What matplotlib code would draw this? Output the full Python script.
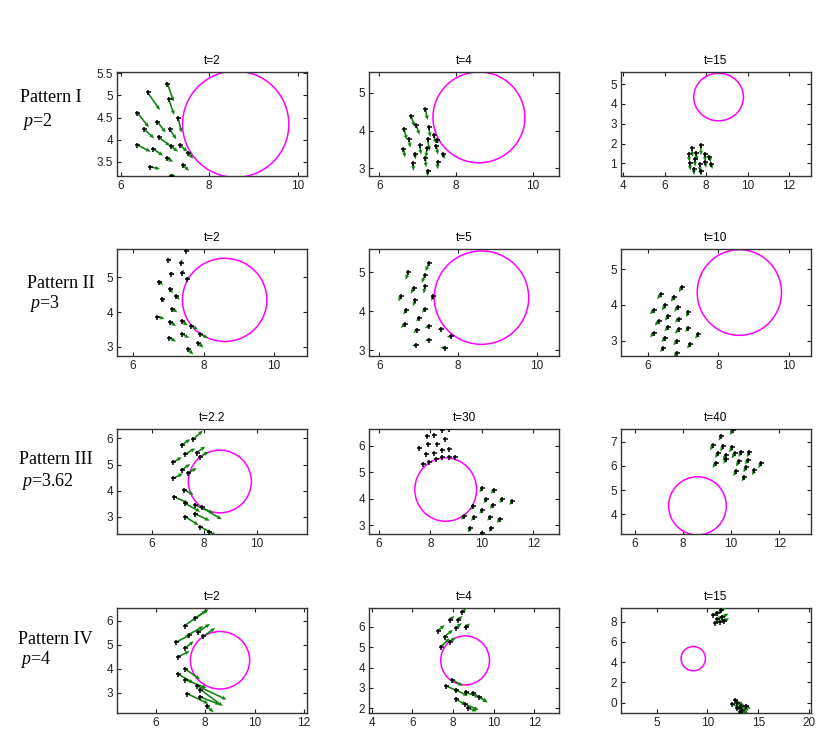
import matplotlib
matplotlib.use("Agg")
import matplotlib.pyplot as plt
from matplotlib.patches import Circle
from matplotlib.ticker import FormatStrFormatter
import numpy as np

plt.rcParams['font.family'] = ['Liberation Sans', 'DejaVu Sans']
plt.rcParams['mathtext.fontset'] = 'custom'
plt.rcParams['mathtext.it'] = 'Liberation Serif:italic'
plt.rcParams['mathtext.rm'] = 'Liberation Serif'

# ---------------- data ----------------
titles = ['t=2', 't=4', 't=15', 't=2', 't=5', 't=10',
          't=2.2', 't=30', 't=40', 't=2', 't=4', 't=15']
pattern_names = ['Pattern I', 'Pattern II', 'Pattern III', 'Pattern IV']
p_values = ['2', '3', '3.62', '4']

circle_center = (8.6, 4.35)
circle_radius = 1.2

# axis limits per panel
xlims = [(5.92, 10.21), (5.73, 10.69), (3.89, 13.06),
         (5.54, 10.94), (5.74, 10.57), (5.23, 10.64),
         (4.68, 11.92), (5.62, 13.0), (5.42, 13.32),
         (4.43, 12.12), (3.87, 13.22), (1.48, 20.2)]
ylims = [(3.18, 5.53), (2.8, 5.55), (0.37, 5.61),
         (2.73, 5.82), (2.85, 5.6), (2.57, 5.57),
         (2.34, 6.36), (2.67, 6.64), (3.19, 7.52),
         (2.15, 6.53), (1.77, 6.92), (-1.02, 9.35)]
xticks = [[6, 8, 10], [6, 8, 10], [4, 6, 8, 10, 12],
          [6, 8, 10], [6, 8, 10], [6, 8, 10],
          [6, 8, 10], [6, 8, 10, 12], [6, 8, 10, 12],
          [6, 8, 10, 12], [4, 6, 8, 10, 12], [5, 10, 15, 20]]
yticks = [[3.5, 4, 4.5, 5, 5.5], [3, 4, 5], [1, 2, 3, 4, 5],
          [3, 4, 5], [3, 4, 5], [3, 4, 5],
          [3, 4, 5, 6], [3, 4, 5, 6], [4, 5, 6, 7],
          [3, 4, 5, 6], [2, 3, 4, 5, 6], [0, 2, 4, 6, 8]]

# agent positions (x, y) and velocities (u, v) per panel
r1c1_x = [7.06, 6.61, 7.09, 7.30, 6.38, 6.83, 6.53, 7.11, 6.87, 6.38, 6.74, 7.13, 7.34, 7.53, 7.04, 6.66, 7.41, 7.15]
r1c1_y = [5.27, 5.07, 4.91, 4.49, 4.61, 4.41, 4.24, 4.24, 4.05, 3.88, 3.79, 3.86, 3.88, 3.70, 3.58, 3.39, 3.42, 3.19]
r1c1_u = [0.14, 0.28, 0.12, 0.08, 0.26, 0.19, 0.23, 0.15, 0.25, 0.30, 0.22, 0.17, 0.17, 0.11, 0.15, 0.23, 0.14, 0.11]
r1c1_v = [-0.41, -0.40, -0.35, -0.33, -0.33, -0.25, -0.21, -0.23, -0.19, -0.15, -0.15, -0.13, -0.15, -0.13, -0.08, -0.05, -0.12, -0.02]

r1c2_x = [7.20, 6.83, 6.96, 6.64, 6.77, 6.63, 7.05, 6.92, 7.29, 7.42, 7.26, 7.50, 7.24, 7.49, 7.67, 6.88, 7.20, 7.52, 7.26]
r1c2_y = [4.58, 4.39, 4.15, 4.04, 3.78, 3.52, 3.61, 3.39, 4.09, 3.89, 3.78, 3.76, 3.55, 3.59, 3.39, 3.14, 3.27, 3.18, 2.94]
r1c2_u = [0.06, 0.09, 0.09, 0.08, 0.04, 0.04, 0.04, 0.03, 0.04, 0.06, 0.05, 0.05, -0.02, 0.04, 0.03, 0.01, 0.02, 0.0, 0.0]
r1c2_v = [-0.30, -0.28, -0.26, -0.28, -0.23, -0.23, -0.24, -0.15, -0.26, -0.23, -0.32, -0.10, -0.26, -0.22, -0.15, -0.20, -0.24, -0.20, -0.15]

r1c3_x = [7.15, 7.31, 7.52, 7.73, 7.92, 8.16, 7.20, 7.44, 7.68, 7.95, 8.24, 7.39, 7.73]
r1c3_y = [1.49, 1.79, 1.54, 1.91, 1.46, 1.35, 1.00, 1.25, 0.97, 1.08, 0.97, 0.72, 0.64]
r1c3_u = [0.05, 0.03, 0.04, 0.03, 0.05, 0.06, 0.04, 0.03, 0.04, 0.05, 0.06, 0.03, 0.02]
r1c3_v = [-0.40, -0.45, -0.40, -0.50, -0.35, -0.30, -0.35, -0.40, -0.40, -0.30, -0.25, -0.30, -0.25]

r2c1_x = [6.99, 7.36, 7.49, 7.08, 7.39, 7.54, 6.73, 7.05, 6.82, 7.22, 7.10, 6.68, 7.05, 7.39, 7.65, 7.39, 7.03, 7.89, 7.84, 7.55]
r2c1_y = [5.49, 5.41, 5.75, 5.11, 5.13, 4.95, 4.88, 4.66, 4.38, 4.47, 4.09, 3.87, 3.70, 3.73, 3.61, 3.37, 3.25, 3.37, 3.11, 2.93]
r2c1_u = [0.10, 0.03, 0.03, 0.05, 0.05, 0.04, 0.12, 0.08, 0.07, 0.10, 0.16, 0.21, 0.17, 0.16, 0.19, 0.20, 0.19, 0.24, 0.16, 0.16]
r2c1_v = [0.05, 0.12, 0.10, 0.05, 0.10, 0.08, -0.10, -0.12, -0.10, -0.12, -0.10, -0.07, -0.10, -0.12, -0.12, -0.12, -0.10, -0.12, -0.14, -0.16]

r2c2_x = [6.74, 7.26, 7.16, 6.88, 7.16, 6.55, 6.92, 7.36, 6.69, 7.16, 7.01, 6.66, 6.97, 7.26, 7.58, 7.83, 7.26, 6.93, 7.66]
r2c2_y = [5.00, 5.24, 4.92, 4.60, 4.64, 4.40, 4.28, 4.39, 4.03, 4.06, 3.83, 3.68, 3.53, 3.61, 3.55, 3.36, 3.27, 3.12, 3.06]
r2c2_u = [-0.07, -0.08, -0.08, -0.08, -0.03, -0.06, -0.07, -0.03, -0.08, -0.07, -0.07, -0.11, -0.10, -0.10, -0.10, -0.11, -0.10, -0.10, -0.11]
r2c2_v = [-0.19, -0.21, -0.19, -0.15, -0.19, -0.15, -0.15, -0.13, -0.11, -0.10, -0.09, -0.11, -0.09, -0.04, -0.02, -0.02, -0.02, 0.0, 0.0]

r2c3_x = [6.36, 6.74, 6.96, 6.16, 6.49, 6.84, 7.15, 6.30, 6.58, 6.87, 6.16, 6.58, 6.87, 7.15, 7.43, 6.49, 6.82, 7.20, 6.44, 6.82]
r2c3_y = [4.30, 4.23, 4.51, 3.86, 3.99, 3.95, 3.79, 3.55, 3.69, 3.62, 3.22, 3.39, 3.32, 3.36, 3.18, 3.08, 2.99, 2.90, 2.80, 2.66]
r2c3_u = [-0.10, -0.09, -0.08, -0.10, -0.10, -0.09, -0.07, -0.11, -0.10, -0.10, -0.10, -0.11, -0.10, -0.09, -0.09, -0.11, -0.10, -0.09, -0.10, -0.09]
r2c3_v = [-0.14, -0.14, -0.15, -0.13, -0.14, -0.14, -0.13, -0.13, -0.13, -0.12, -0.13, -0.13, -0.13, -0.12, -0.12, -0.12, -0.12, -0.12, -0.12, -0.12]

r3c1_x = [7.15, 7.59, 7.28, 7.72, 6.81, 7.15, 7.85, 6.83, 7.40, 7.24, 6.86, 7.28, 7.66, 7.91, 7.28, 7.66, 7.85, 8.17]
r3c1_y = [5.75, 5.97, 5.39, 5.46, 5.09, 4.79, 5.30, 4.47, 4.69, 4.03, 3.77, 3.51, 3.45, 3.36, 3.00, 3.11, 2.62, 2.43]
r3c1_u = [0.32, 0.36, 0.38, 0.32, 0.34, 0.32, 0.32, 0.36, 0.32, 0.36, 0.55, 0.57, 0.70, 0.76, 0.51, 0.55, 0.45, 0.30]
r3c1_v = [0.22, 0.33, 0.23, 0.23, 0.19, 0.23, 0.19, 0.19, 0.17, -0.19, -0.26, -0.32, -0.32, -0.46, -0.32, -0.26, -0.25, -0.15]

r3c2_x = [7.86, 8.15, 8.45, 8.71, 7.58, 7.90, 8.28, 8.58, 7.83, 8.13, 8.45, 8.73, 7.73, 7.96, 8.22, 8.47, 8.73, 8.96,
          10.01, 10.46, 10.18, 10.78, 11.17, 9.67, 10.01, 10.42, 10.33, 10.69, 9.31, 9.69, 9.56, 10.37, 10.01]
r3c2_y = [6.36, 6.42, 6.59, 6.64, 5.94, 6.08, 6.08, 6.26, 5.69, 5.73, 5.83, 5.88, 5.32, 5.41, 5.50, 5.58, 5.58, 5.58,
          4.40, 4.34, 3.99, 3.99, 3.90, 3.74, 3.58, 3.77, 3.33, 3.23, 3.36, 3.31, 2.89, 2.89, 2.70]
r3c2_u = [-0.08, -0.07, -0.08, -0.06, -0.08, -0.07, -0.08, -0.06, -0.08, -0.07, -0.08, -0.06, -0.08, -0.07, -0.08, -0.06, -0.07, -0.06,
          -0.10, -0.10, -0.11, -0.10, -0.09, -0.11, -0.10, -0.10, -0.11, -0.10, -0.11, -0.10, -0.11, -0.10, -0.10]
r3c2_v = [0.02, 0.03, 0.01, 0.02, 0.02, 0.03, 0.01, 0.02, 0.02, 0.03, 0.01, 0.02, 0.02, 0.03, 0.01, 0.02, 0.02, 0.01,
          -0.16, -0.15, -0.16, -0.15, -0.14, -0.16, -0.15, -0.15, -0.16, -0.15, -0.16, -0.15, -0.16, -0.15, -0.15]

r3c3_x = [10.07, 9.59, 9.24, 9.66, 10.04, 9.45, 9.77, 10.14, 10.41, 10.76, 9.35, 9.79, 10.32, 10.69, 11.24, 10.21, 10.62, 10.97, 10.55]
r3c3_y = [7.49, 7.25, 6.84, 6.80, 6.77, 6.52, 6.43, 6.52, 6.56, 6.56, 6.11, 6.29, 6.19, 6.25, 6.11, 5.78, 5.94, 5.81, 5.56]
r3c3_u = [-0.12, -0.11, -0.12, -0.11, -0.12, -0.11, -0.12, -0.11, -0.10, -0.11, -0.12, -0.11, -0.12, -0.10, -0.11, -0.12, -0.11, -0.10, -0.11]
r3c3_v = [-0.22, -0.21, -0.20, -0.21, -0.22, -0.20, -0.21, -0.22, -0.20, -0.21, -0.20, -0.21, -0.22, -0.20, -0.21, -0.20, -0.21, -0.20, -0.21]

r4c1_x = [7.17, 7.60, 7.33, 7.69, 6.82, 7.19, 7.93, 6.89, 7.19, 6.89, 7.19, 7.66, 7.80, 7.26, 7.80, 8.07]
r4c1_y = [5.80, 6.11, 5.42, 5.51, 5.10, 4.86, 5.35, 4.49, 3.99, 3.78, 3.54, 3.29, 3.13, 2.96, 2.82, 2.43]
r4c1_u = [0.97, 0.45, 0.60, 0.50, 0.58, 0.34, 0.47, 0.48, 0.60, 0.64, 0.87, 1.20, 0.91, 0.87, 0.80, 0.27]
r4c1_v = [0.68, 0.32, 0.35, 0.36, 0.32, 0.28, 0.35, 0.24, -0.44, -0.38, -0.35, -0.58, -0.69, -0.42, -0.32, -0.25]

r4c2_x = [7.27, 7.84, 8.24, 8.46, 7.59, 8.13, 8.65, 7.43, 7.84, 7.97, 7.64, 8.13, 8.62, 8.98, 9.30, 8.13, 8.57, 8.73]
r4c2_y = [5.81, 6.33, 6.33, 6.71, 5.52, 5.93, 6.01, 5.03, 5.27, 3.40, 3.10, 2.91, 2.78, 2.74, 2.55, 2.45, 2.22, 2.01]
r4c2_u = [0.32, 0.24, 0.24, 0.20, 0.41, 0.30, 0.20, 0.41, 0.30, 0.52, 0.68, 0.60, 0.68, 0.73, 0.40, 0.52, 0.70, 0.45]
r4c2_v = [0.28, 0.20, 0.20, 0.20, 0.33, 0.25, 0.15, 0.41, 0.20, -0.30, -0.28, -0.30, -0.23, -0.45, -0.25, -0.28, -0.30, -0.15]

r4c3_x = [10.59, 10.98, 11.31, 10.92, 11.48, 10.72, 11.25, 11.64, 12.69, 12.46, 12.89, 13.28, 12.95, 13.44, 13.77, 13.21]
r4c3_y = [8.65, 8.82, 9.14, 8.22, 8.49, 7.83, 7.99, 8.09, 0.26, -0.13, -0.07, -0.33, -0.56, -0.72, -0.33, -0.89]
r4c3_u = [0.6, 0.6, 0.5, 0.6, 0.6, 0.5, 0.6, 0.5, 0.9, 0.9, 0.9, 0.8, 0.8, 0.6, 0.5, 0.6]
r4c3_v = [0.35, 0.35, 0.3, 0.35, 0.3, 0.3, 0.3, 0.25, -0.5, -0.5, -0.5, -0.45, -0.45, -0.35, -0.3, -0.3]

panels = [
    (r1c1_x, r1c1_y, r1c1_u, r1c1_v), (r1c2_x, r1c2_y, r1c2_u, r1c2_v), (r1c3_x, r1c3_y, r1c3_u, r1c3_v),
    (r2c1_x, r2c1_y, r2c1_u, r2c1_v), (r2c2_x, r2c2_y, r2c2_u, r2c2_v), (r2c3_x, r2c3_y, r2c3_u, r2c3_v),
    (r3c1_x, r3c1_y, r3c1_u, r3c1_v), (r3c2_x, r3c2_y, r3c2_u, r3c2_v), (r3c3_x, r3c3_y, r3c3_u, r3c3_v),
    (r4c1_x, r4c1_y, r4c1_u, r4c1_v), (r4c2_x, r4c2_y, r4c2_u, r4c2_v), (r4c3_x, r4c3_y, r4c3_u, r4c3_v),
]

# ---------------- layout ----------------
W, H = 831, 735
fig = plt.figure(figsize=(W / 100, H / 100), dpi=100)
fig.patch.set_facecolor('white')

col_left = [117, 369, 621]
col_w = 190
row_top = [72, 249, 429, 608]
row_bot = [176, 356, 534, 713]

green = '#0f800f'

for i in range(12):
    r, c = divmod(i, 3)
    ax = fig.add_axes([col_left[c] / W, 1 - row_bot[r] / H,
                       col_w / W, (row_bot[r] - row_top[r]) / H])
    x, y, u, v = (np.array(a) for a in panels[i])
    ax.add_patch(Circle(circle_center, circle_radius, fill=False,
                        edgecolor='#ff00ff', linewidth=1.1, zorder=2))
    ax.quiver(x, y, u, v, angles='xy', scale_units='xy', scale=1,
              color=green, width=0.0085, headwidth=2.6, headlength=3.0,
              headaxislength=2.6, zorder=3)
    ax.plot(x, y, linestyle='none', marker='+', color='black',
            markersize=3.6, markeredgewidth=1.1, zorder=4)
    ax.set_xlim(*xlims[i])
    ax.set_ylim(*ylims[i])
    ax.set_xticks(xticks[i])
    ax.set_yticks(yticks[i])
    ax.xaxis.set_major_formatter(FormatStrFormatter('%g'))
    ax.yaxis.set_major_formatter(FormatStrFormatter('%g'))
    ax.tick_params(direction='in', length=3, width=0.8, top=True, right=True,
                   labelsize=8.5, pad=3, colors='#222222')
    for s in ax.spines.values():
        s.set_linewidth(1.0)
        s.set_color('#333333')
    ax.set_title(titles[i], fontsize=8.5, pad=6)

# row labels
label_y = [(98, 121), (283, 303), (460, 481), (639, 660)]
label_x = [20, 27, 19, 18]
for k in range(4):
    fig.text(label_x[k] / W, 1 - label_y[k][0] / H, pattern_names[k],
             family='Liberation Serif', fontsize=13, va='center', ha='left')
    fig.text(label_x[k] / W + 0.003, 1 - label_y[k][1] / H, r'$p$=' + p_values[k],
             family='Liberation Serif', fontsize=13, va='center', ha='left')

fig.savefig('out.png', dpi=100, facecolor='white')
